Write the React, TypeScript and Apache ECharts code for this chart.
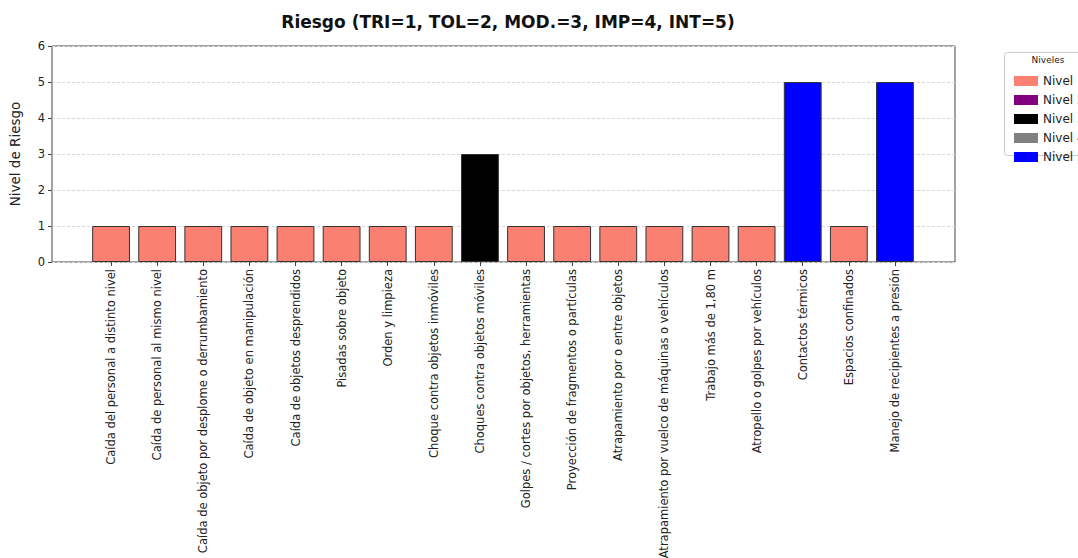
import React, { useEffect, useRef } from "react";
import * as echarts from "echarts";

const categories = [
  "Caída del personal a distinto nivel",
  "Caída de personal al mismo nivel",
  "Caída de objeto por desplome o derrumbamiento",
  "Caída de objeto en manipulación",
  "Caída de objetos desprendidos",
  "Pisadas sobre objeto",
  "Orden y limpieza",
  "Choque contra objetos inmóviles",
  "Choques contra objetos móviles",
  "Golpes / cortes por objetos, herramientas",
  "Proyección de fragmentos o partículas",
  "Atrapamiento por o entre objetos",
  "Atrapamiento por vuelco de máquinas o vehículos",
  "Trabajo más de 1,80 m",
  "Atropello o golpes por vehículos",
  "Contactos térmicos",
  "Espacios confinados",
  "Manejo de recipientes a presión",
];

const riskValues = [1, 1, 1, 1, 1, 1, 1, 1, 3, 1, 1, 1, 1, 1, 1, 5, 1, 5];

const levelNames = ["Nivel 1", "Nivel 2", "Nivel 3", "Nivel 4", "Nivel 5"];
const levelValues = [1, 2, 3, 4, 5];
const levelColors = ["#FA8072", "#800080", "#000000", "#808080", "#0000FF"];

const yTicks = [0, 1, 2, 3, 4, 5, 6];

const FONT = "DejaVu Sans";

export default function App() {
  const ref = useRef<HTMLDivElement>(null);
  useEffect(() => {
    if (!ref.current) return;
    const chart = echarts.init(ref.current, undefined, { renderer: "svg" });
    const series = levelNames.map((name, i) => ({
      name,
      type: "bar",
      xAxisIndex: 1,
      yAxisIndex: 1,
      barWidth: "82%",
      barGap: "-100%",
      data: riskValues.map((v) => (v === levelValues[i] ? v : null)),
      itemStyle: { color: levelColors[i], borderColor: "#333", borderWidth: 1 },
      z: 3,
    }));
    chart.setOption({
      animation: false,
      backgroundColor: "#fff",
      textStyle: { fontFamily: FONT },
      title: {
        text: "Riesgo (TRI=1, TOL=2, MOD.=3, IMP=4, INT=5)",
        left: 503,
        textAlign: "center",
        top: 8,
        textStyle: { fontFamily: FONT, fontSize: 17, fontWeight: "bold", color: "#111" },
      },
      legend: {
        orient: "vertical",
        left: 1009,
        top: 70,
        itemWidth: 24,
        itemHeight: 10,
        itemGap: 7,
        selectedMode: false,
        icon: "rect",
        data: levelNames,
        itemStyle: { borderWidth: 0 },
        textStyle: { fontFamily: FONT, fontSize: 12, color: "#222" },
      },
      graphic: [
        {
          type: "rect",
          shape: { x: 1004.5, y: 52.5, width: 90, height: 103, r: 3 },
          style: { fill: "#fff", stroke: "#ccc", lineWidth: 1 },
          z: 0,
        },
        {
          type: "text",
          x: 1048,
          y: 60,
          style: { text: "Niveles", fontFamily: FONT, fontSize: 9, fill: "#222", textAlign: "center", textVerticalAlign: "middle" },
          z: 1,
        },
      ],
      grid: [
        { left: 52, top: 46, width: 903, height: 216, show: true, borderColor: "#444", borderWidth: 1, backgroundColor: "transparent", containLabel: false, outerBoundsMode: "none" },
        { left: 88, top: 46, width: 830, height: 216, show: false, containLabel: false, outerBoundsMode: "none" },
      ],
      xAxis: [
        { type: "value", gridIndex: 0, min: 0, max: 1, show: false },
        {
          type: "category",
          gridIndex: 1,
          data: categories,
          axisLine: { show: false },
          axisTick: { show: true, alignWithLabel: true, length: 4, lineStyle: { color: "#444" } },
          axisLabel: { rotate: 90, interval: 0, margin: 7, fontFamily: FONT, fontSize: 11.5, color: "#222" },
        },
      ],
      yAxis: [
        {
          type: "value",
          gridIndex: 0,
          min: 0,
          max: 6,
          interval: 1,
          name: "Nivel de Riesgo",
          nameLocation: "middle",
          nameGap: 30,
          nameTextStyle: { fontFamily: FONT, fontSize: 13.5, color: "#222" },
          axisLine: { show: false },
          axisTick: { show: true, length: 4, lineStyle: { color: "#444" } },
          axisLabel: { fontFamily: FONT, fontSize: 11.5, color: "#222", margin: 7, formatter: (v: number) => (yTicks.includes(v) ? String(v) : "") },
          splitLine: { show: true, lineStyle: { color: "#d8d8d8", type: [3, 2], width: 1 } },
        },
        { type: "value", gridIndex: 1, min: 0, max: 6, interval: 1, show: false, splitLine: { show: false } },
      ],
      series,
    });
    return () => chart.dispose();
  }, []);
  return (
    <div
      ref={ref}
      style={{ position: "fixed", left: 0, top: 0, width: 1078, height: 558, background: "#fff" }}
    />
  );
}
